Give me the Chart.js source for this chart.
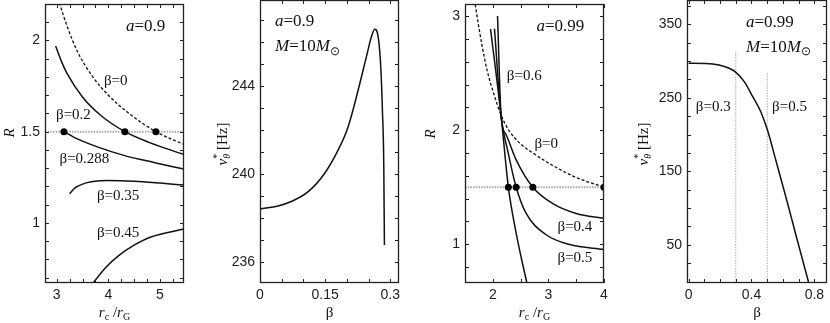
<!DOCTYPE html>
<html>
<head>
<meta charset="utf-8">
<title>R and nu vs beta</title>
<script src="https://cdn.jsdelivr.net/npm/chart.js@4.4.1/dist/chart.umd.min.js"></script>
<style>
  html, body { margin: 0; padding: 0; background: #fff; }
  #wrap { position: relative; width: 830px; height: 323px; overflow: hidden; }
  canvas { position: absolute; top: 0; }
</style>
</head>
<body>
<div id="wrap">
  <canvas id="p1" width="205" height="323" style="left:0"></canvas>
  <canvas id="p2" width="210" height="323" style="left:205px"></canvas>
  <canvas id="p3" width="200" height="323" style="left:415px"></canvas>
  <canvas id="p4" width="215" height="323" style="left:615px"></canvas>
</div>
<script>
// ---- panel 1: a = 0.9, R against rc/rG ----
const p1XTicks = [3, 4, 5];
const p1XLabels = ['3', '4', '5'];
const p1YTicks = [1, 1.5, 2];
const p1YLabels = ['1', '1.5', '2'];

const p1Rc_b0 = [3.0, 3.06, 3.2, 3.4, 3.7, 4.0, 4.4, 4.92, 5.46];
const p1R_b0 = [2.26, 2.2, 2.08, 1.94, 1.8, 1.7, 1.6, 1.5, 1.43];
const p1Rc_b02 = [2.98, 3.1, 3.2, 3.5, 3.85, 4.32, 4.8, 5.46];
const p1R_b02 = [1.97, 1.88, 1.82, 1.69, 1.59, 1.5, 1.44, 1.375];
const p1Rc_b0288 = [3.14, 3.4, 3.8, 4.3, 4.9, 5.46];
const p1R_b0288 = [1.5, 1.46, 1.415, 1.37, 1.33, 1.295];
const p1Rc_b035 = [3.25, 3.35, 3.5, 3.7, 4.0, 4.5, 5.0, 5.46];
const p1R_b035 = [1.16, 1.19, 1.212, 1.226, 1.232, 1.228, 1.218, 1.207];
const p1Rc_b045 = [3.6, 3.7, 3.95, 4.2, 4.49, 4.81, 5.46];
const p1R_b045 = [0.63, 0.668, 0.755, 0.82, 0.876, 0.921, 0.966];
const p1DotRc = [3.14, 4.32, 4.92];
const p1DotR = [1.5, 1.5, 1.5];

// ---- panel 2: a = 0.9, M = 10 Msun, nu against beta ----
const p2XTicks = [0, 0.15, 0.3];
const p2XLabels = ['0', '0.15', '0.3'];
const p2YTicks = [236, 240, 244];
const p2YLabels = ['236', '240', '244'];

const p2Beta = [0, 0.0415, 0.072, 0.111, 0.149, 0.18, 0.203, 0.226, 0.245, 0.2565, 0.2643, 0.272, 0.278, 0.2818, 0.285, 0.2864];
const p2Nu = [238.4, 238.54, 238.74, 239.19, 240.03, 241.09, 242.15, 243.82, 245.34, 246.25, 246.59, 246.25, 244.88, 242.91, 240.33, 236.76];

// ---- panel 3: a = 0.99, R against rc/rG ----
const p3XTicks = [2, 3, 4];
const p3XLabels = ['2', '3', '4'];
const p3YTicks = [1, 2, 3];
const p3YLabels = ['1', '2', '3'];

const p3Rc_b0 = [1.62, 1.70, 1.80, 1.90, 2.03, 2.15, 2.30, 2.50, 2.72, 3.08, 3.5, 4.0];
const p3R_b0 = [3.32, 3.05, 2.76, 2.52, 2.30, 2.13, 1.99, 1.88, 1.80, 1.69, 1.585, 1.5];
const p3Rc_b04 = [2.085, 2.15, 2.24, 2.42, 2.72, 3.08, 3.5, 4.0];
const p3R_b04 = [3.0, 2.12, 1.96, 1.74, 1.5, 1.356, 1.27, 1.227];
const p3Rc_b05 = [2.03, 2.15, 2.27, 2.42, 2.6, 2.96, 3.38, 4.0];
const p3R_b05 = [2.89, 2.12, 1.816, 1.5, 1.27, 1.083, 0.997, 0.954];
const p3Rc_b06 = [1.96, 2.15, 2.28, 2.42, 2.61, 2.66];
const p3R_b06 = [2.885, 2.12, 1.5, 1.098, 0.667, 0.56];
const p3DotRc = [2.28, 2.42, 2.72, 4.0];
const p3DotR = [1.5, 1.5, 1.5, 1.5];

// ---- panel 4: a = 0.99, M = 10 Msun, nu against beta ----
const p4XTicks = [0, 0.4, 0.8];
const p4XLabels = ['0', '0.4', '0.8'];
const p4YTicks = [50, 150, 250, 350];
const p4YLabels = ['50', '150', '250', '350'];

const p4Beta = [0, 0.109, 0.194, 0.258, 0.301, 0.354, 0.408, 0.461, 0.503, 0.556, 0.62, 0.684, 0.759, 0.766];
const p4Nu = [296.9, 296.7, 294.6, 290.1, 284.6, 271.9, 251.4, 230, 205, 164, 114, 62, 2, -4];
const p4MarkBeta = [0.3, 0.5];
const p4MarkTop = [313, 283];

const SERIF = '"Liberation Serif", "Times New Roman", serif';
const SANS = '"Liberation Sans", Arial, sans-serif';
const TICK = 4;

const pts = (xs, ys) => xs.map((v, i) => ({ x: v, y: ys[i] }));
const steps = (a, b, s) => {
  const out = [];
  for (let v = a; v <= b + 1e-9; v += s) out.push(+v.toFixed(4));
  return out;
};

function curve(xs, ys, dashed) {
  return {
    data: pts(xs, ys), showLine: true, pointRadius: 0,
    borderColor: '#111', borderWidth: dashed ? 1.3 : 1.5,
    borderDash: dashed ? [3, 2] : [],
    tension: 0.4, cubicInterpolationMode: 'monotone'
  };
}
function dots(xs, ys) {
  return {
    data: pts(xs, ys), showLine: false, pointRadius: 3.5,
    backgroundColor: '#000', borderWidth: 0
  };
}
function guide(xs, ys, width) {
  return {
    data: pts(xs, ys), showLine: true, pointRadius: 0,
    borderColor: '#a8a8a8', borderWidth: width, borderDash: [1.5, 1.2], tension: 0
  };
}

function drawRich(ctx, parts, x, y, size, align, rot) {
  const fontOf = st => {
    const small = st === 'sub' || st === 'subi' || st === 'sup';
    const ital = st === 'i' || st === 'subi';
    return (ital ? 'italic ' : '') + (small ? Math.round(size * 0.68) : size) + 'px ' + SERIF;
  };
  const shift = st => st === 'sup' ? -0.36 * size : (st === 'sub' || st === 'subi') ? 0.3 * size : 0;
  let total = 0;
  const adv = parts.map(([t, st, still]) => {
    ctx.font = fontOf(st);
    const w = still ? 0 : ctx.measureText(t).width;
    total += w;
    return w;
  });
  ctx.save();
  ctx.translate(x, y);
  if (rot) ctx.rotate(rot);
  ctx.fillStyle = '#111';
  ctx.textBaseline = 'middle';
  ctx.textAlign = 'left';
  let cx = align === 'center' ? -total / 2 : 0;
  parts.forEach(([t, st], i) => {
    ctx.font = fontOf(st);
    ctx.fillText(t, cx, shift(st));
    cx += adv[i];
  });
  ctx.restore();
}

function makeDecor(cfg) {
  return {
    id: 'decor',
    afterDatasetsDraw(chart) {
      const { ctx, chartArea: a, scales: { x, y } } = chart;
      ctx.save();
      ctx.strokeStyle = '#222';
      ctx.lineWidth = 1;
      ctx.beginPath();
      cfg.xMinor.forEach(v => {
        if (v < x.min || v > x.max) return;
        const px = Math.round(x.getPixelForValue(v)) + 0.5;
        ctx.moveTo(px, a.bottom); ctx.lineTo(px, a.bottom - TICK);
        ctx.moveTo(px, a.top); ctx.lineTo(px, a.top + TICK);
      });
      cfg.yMinor.forEach(v => {
        if (v < y.min || v > y.max) return;
        const py = Math.round(y.getPixelForValue(v)) + 0.5;
        ctx.moveTo(a.left, py); ctx.lineTo(a.left + TICK, py);
        ctx.moveTo(a.right, py); ctx.lineTo(a.right - TICK, py);
      });
      ctx.stroke();
      ctx.lineWidth = 1.3;
      ctx.strokeRect(Math.round(a.left) + 0.5, Math.round(a.top) + 0.5,
        Math.round(a.right - a.left) - 1, Math.round(a.bottom - a.top) - 1);
      ctx.restore();

      cfg.notes.forEach(n => drawRich(ctx, n.parts, x.getPixelForValue(n.x), y.getPixelForValue(n.y), n.size, 'left'));
      drawRich(ctx, cfg.xTitle, (a.left + a.right) / 2, 313, 15, 'center');
      drawRich(ctx, cfg.yTitle, cfg.yTitleX, cfg.yTitleY, 15, 'center', -Math.PI / 2);
    }
  };
}

function panel(id, cfg) {
  const tickFont = { family: SANS, size: 14 };
  return new Chart(document.getElementById(id), {
    type: 'scatter',
    data: { datasets: cfg.datasets },
    options: {
      responsive: false,
      animation: false,
      devicePixelRatio: 1,
      events: [],
      layout: { padding: { left: 0, right: cfg.padRight, top: 0, bottom: 0 } },
      plugins: { legend: { display: false }, tooltip: { enabled: false } },
      scales: {
        x: {
          type: 'linear', min: cfg.xMin, max: cfg.xMax,
          grid: { display: false, drawTicks: false }, border: { display: false },
          ticks: { font: tickFont, color: '#222', padding: 4, maxRotation: 0, autoSkip: false,
            callback: (v, i) => cfg.xLabels[i] },
          afterBuildTicks: s => { s.ticks = cfg.xTicks.map(v => ({ value: v })); },
          afterFit: s => { s.height = 40; s.paddingLeft = 0; s.paddingRight = 0; }
        },
        y: {
          type: 'linear', min: cfg.yMin, max: cfg.yMax,
          grid: { display: false, drawTicks: false }, border: { display: false },
          ticks: { font: tickFont, color: '#222', padding: 5, autoSkip: false,
            callback: (v, i) => cfg.yLabels[i] },
          afterBuildTicks: s => { s.ticks = cfg.yTicks.map(v => ({ value: v })); },
          afterFit: s => { s.width = cfg.yWidth; s.paddingTop = 0; s.paddingBottom = 0; }
        }
      }
    },
    plugins: [makeDecor(cfg)]
  });
}

const rTitle = [['r', 'i'], ['c', 'sub'], [' /', 'r'], ['r', 'i'], ['G', 'sub']];
const nuTitle = [['\u03BD', 'i'], ['*', 'sup', true], ['\u03B8', 'subi'], [' [Hz]', 'r']];
const massNote = [['M', 'i'], ['=10', 'r'], ['M', 'i'], ['\u2299', 'sub']];

panel('p1', {
  xMin: 2.774, xMax: 5.465, yMin: 0.67, yMax: 2.2,
  xTicks: p1XTicks, xLabels: p1XLabels, yTicks: p1YTicks, yLabels: p1YLabels,
  yWidth: 45, padRight: 21,
  xMinor: steps(2.75, 5.5, 0.25), yMinor: steps(0.7, 2.2, 0.1),
  datasets: [
    dots(p1DotRc, p1DotR),
    curve(p1Rc_b0, p1R_b0, true),
    curve(p1Rc_b02, p1R_b02),
    curve(p1Rc_b0288, p1R_b0288),
    curve(p1Rc_b035, p1R_b035),
    curve(p1Rc_b045, p1R_b045),
    guide([2.774, 5.465], [1.5, 1.5], 2)
  ],
  notes: [
    { x: 4.34, y: 2.076, size: 17, parts: [['a', 'i'], ['=0.9', 'r']] },
    { x: 3.916, y: 1.778, size: 15, parts: [['\u03B2=0', 'r']] },
    { x: 2.987, y: 1.589, size: 15, parts: [['\u03B2=0.2', 'r']] },
    { x: 3.055, y: 1.351, size: 15, parts: [['\u03B2=0.288', 'r']] },
    { x: 3.78, y: 1.146, size: 15, parts: [['\u03B2=0.35', 'r']] },
    { x: 3.78, y: 0.946, size: 15, parts: [['\u03B2=0.45', 'r']] }
  ],
  xTitle: rTitle, yTitle: [['R', 'i']], yTitleX: 10, yTitleY: 133
});

panel('p2', {
  xMin: 0, xMax: 0.32, yMin: 235.03, yMax: 247.92,
  xTicks: p2XTicks, xLabels: p2XLabels, yTicks: p2YTicks, yLabels: p2YLabels,
  yWidth: 55, padRight: 16,
  xMinor: steps(0, 0.3, 0.05), yMinor: steps(235, 247, 1),
  datasets: [curve(p2Beta, p2Nu)],
  notes: [
    { x: 0.0346, y: 246.92, size: 17, parts: [['a', 'i'], ['=0.9', 'r']] },
    { x: 0.0346, y: 245.78, size: 17, parts: massNote }
  ],
  xTitle: [['\u03B2', 'r']], yTitle: nuTitle, yTitleX: 18, yTitleY: 144
});

panel('p3', {
  xMin: 1.5, xMax: 4, yMin: 0.66, yMax: 3.106,
  xTicks: p3XTicks, xLabels: p3XLabels, yTicks: p3YTicks, yLabels: p3YLabels,
  yWidth: 50, padRight: 11,
  xMinor: steps(1.5, 4, 0.5), yMinor: steps(0.8, 3.0, 0.2),
  datasets: [
    dots(p3DotRc, p3DotR),
    curve(p3Rc_b0, p3R_b0, true),
    curve(p3Rc_b04, p3R_b04),
    curve(p3Rc_b05, p3R_b05),
    curve(p3Rc_b06, p3R_b06),
    guide([1.5, 4], [1.5, 1.5], 2)
  ],
  notes: [
    { x: 2.784, y: 2.908, size: 17, parts: [['a', 'i'], ['=0.99', 'r']] },
    { x: 2.252, y: 2.477, size: 15, parts: [['\u03B2=0.6', 'r']] },
    { x: 2.748, y: 1.882, size: 15, parts: [['\u03B2=0', 'r']] },
    { x: 3.164, y: 1.149, size: 15, parts: [['\u03B2=0.4', 'r']] },
    { x: 3.164, y: 0.882, size: 15, parts: [['\u03B2=0.5', 'r']] }
  ],
  xTitle: rTitle, yTitle: [['R', 'i']], yTitleX: 16, yTitleY: 134
});

panel('p4', {
  xMin: -0.01, xMax: 0.88, yMin: -2, yMax: 383,
  xTicks: p4XTicks, xLabels: p4XLabels, yTicks: p4YTicks, yLabels: p4YLabels,
  yWidth: 72, padRight: 3,
  xMinor: steps(0, 0.8, 0.1), yMinor: steps(25, 375, 25),
  datasets: [
    curve(p4Beta, p4Nu),
    guide([p4MarkBeta[0], p4MarkBeta[0]], [-2, p4MarkTop[0]], 1),
    guide([p4MarkBeta[1], p4MarkBeta[1]], [-2, p4MarkTop[1]], 1)
  ],
  notes: [
    { x: 0.365, y: 351.7, size: 17, parts: [['a', 'i'], ['=0.99', 'r']] },
    { x: 0.365, y: 319, size: 17, parts: massNote },
    { x: 0.046, y: 237.4, size: 15, parts: [['\u03B2=0.3', 'r']] },
    { x: 0.531, y: 237.4, size: 15, parts: [['\u03B2=0.5', 'r']] }
  ],
  xTitle: [['\u03B2', 'r']], yTitle: nuTitle, yTitleX: 29, yTitleY: 144
});
</script>
</body>
</html>
